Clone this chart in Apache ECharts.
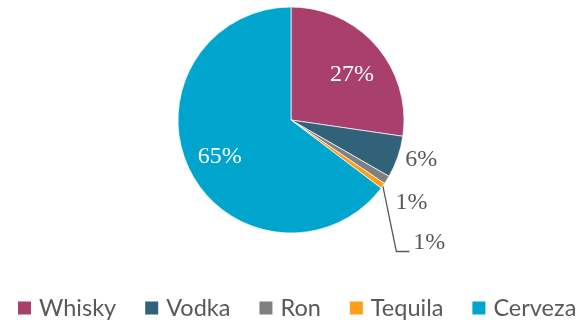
<!DOCTYPE html>
<html><head><meta charset="utf-8">
<script src="https://cdn.jsdelivr.net/npm/echarts@6/dist/echarts.min.js"></script>
<style>html,body{margin:0;padding:0;background:#fff}#c{width:584px;height:320px}</style>
</head><body><div id="c"></div>
<script>
const categories = ['Whisky', 'Vodka', 'Ron', 'Tequila', 'Cerveza'];
const values = [27.3, 6.0, 1.2, 0.8, 64.7];
const colors = ['#A93F6D', '#31627A', '#808080', '#FF9E1A', '#00A5CE'];

// label style tweaks (offsets in px)
const labelOffsets = [[16, -6], [0, 0], [2, 19], [24, 52], [-18, 10]];
const insideIdx = [0, 4];

const chart = echarts.init(document.getElementById('c'), null, {renderer: 'canvas'});
const data = categories.map((n, i) => {
  const inside = insideIdx.indexOf(i) >= 0;
  return {
    name: n, value: values[i],
    itemStyle: {color: colors[i]},
    label: inside ? {position: 'inside', color: '#ffffff'} : {position: 'outside', color: '#595959'},
    labelLine: {show: i === 3, length: 8, length2: 0}
  };
});
chart.setOption({
  animation: false,
  legend: {
    data: categories, left: 11, top: 291,
    icon: 'rect', itemWidth: 15, itemHeight: 15, itemGap: 27,
    textStyle: {fontFamily: 'Lato', fontSize: 23.5, color: '#595959', padding: [0, 0, 0, 2]}
  },
  series: [{
    type: 'pie', center: [291, 120], radius: 113, startAngle: 90, clockwise: true,
    avoidLabelOverlap: false,
    itemStyle: {borderColor: '#ffffff', borderWidth: 0.7},
    label: {
      formatter: p => Math.round(p.percent) + '%',
      fontFamily: 'Liberation Serif', fontSize: 24,
      distanceToLabelLine: 0
    },
    labelLine: {lineStyle: {color: '#595959', width: 1.3}},
    labelLayout: function (params) {
      const i = params.dataIndex;
      const off = labelOffsets[i];
      const res = {dx: off[0], dy: off[1]};
      if (i === 3 && params.labelLinePoints) {
        const r = params.labelRect;
        const nx = r.x + off[0], ny = r.y + off[1];
        const p0 = params.labelLinePoints[0];
        const yb = ny + r.height - 3;
        res.labelLinePoints = [p0, [nx - 17, yb], [nx - 4, yb]];
      }
      return res;
    },
    data: data
  }]
});
</script></body></html>
